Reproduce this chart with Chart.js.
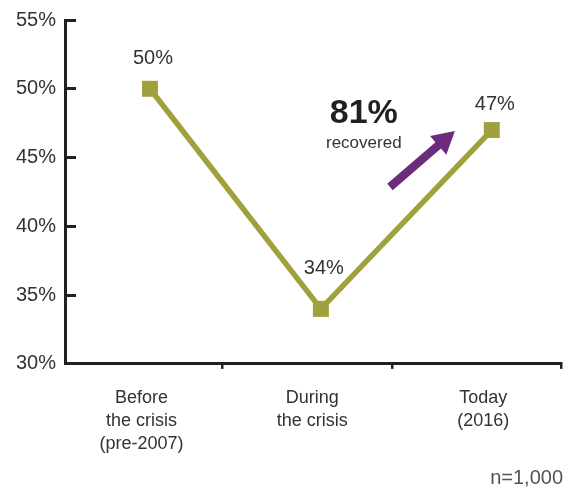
<!DOCTYPE html>
<html>
<head>
<meta charset="utf-8">
<script src="https://cdn.jsdelivr.net/npm/chart.js@4.4.0/dist/chart.umd.min.js"></script>
<style>
  html, body { margin: 0; padding: 0; background: #fff; }
  #wrap { width: 573px; height: 489px; }
</style>
</head>
<body>
<div id="wrap"><canvas id="lineChart"></canvas></div>
<script>
// data
const categories = ['Before\nthe crisis\n(pre-2007)', 'During\nthe crisis', 'Today\n(2016)'];
const shares = [50, 34, 47];
const yTicks = [30, 35, 40, 45, 50, 55];
const recoveredText = '81%';
const sampleNote = 'n=1,000';

const olive = '#a0a13b';
const ink = '#231f20';
const textGrey = '#333333';
const purple = '#6b2d7b';
const FONT = '"Liberation Sans", Arial, sans-serif';

// x range chosen so categories sit where the designer put them
const xMin = -0.497, xMax = 2.409;
const dividerTicks = [0.42, 1.415, 2.409];

const valueLabels = {
  id: 'valueLabels',
  afterDatasetsDraw(chart) {
    const ctx = chart.ctx;
    const meta = chart.getDatasetMeta(0);
    const lift = [30, 40, 26];
    ctx.save();
    ctx.font = '20px ' + FONT;
    ctx.fillStyle = textGrey;
    ctx.textAlign = 'center';
    ctx.textBaseline = 'middle';
    meta.data.forEach((pt, i) => {
      ctx.fillText(shares[i] + '%', pt.x + 3, pt.y - lift[i]);
    });
    ctx.restore();
  }
};

const recoveredNote = {
  id: 'recoveredNote',
  afterDatasetsDraw(chart) {
    const ctx = chart.ctx;
    const x = chart.scales.x, y = chart.scales.y;
    ctx.save();
    ctx.fillStyle = ink;
    ctx.textAlign = 'center';
    ctx.textBaseline = 'middle';
    ctx.font = 'bold 34px ' + FONT;
    ctx.fillText(recoveredText, x.getPixelForValue(1.251), y.getPixelForValue(48.2));
    ctx.fillStyle = textGrey;
    ctx.font = '17px ' + FONT;
    ctx.fillText('recovered', x.getPixelForValue(1.251), y.getPixelForValue(46.0));

    // arrow
    const x0 = x.getPixelForValue(1.404), y0 = y.getPixelForValue(42.86);
    const x1 = x.getPixelForValue(1.784), y1 = y.getPixelForValue(46.93);
    const ang = Math.atan2(y1 - y0, x1 - x0);
    const len = Math.hypot(x1 - x0, y1 - y0);
    const headLen = 22, headHalf = 12.5, shaftHalf = 4.2;
    ctx.translate(x0, y0);
    ctx.rotate(ang);
    ctx.fillStyle = purple;
    ctx.beginPath();
    ctx.moveTo(0, -shaftHalf);
    ctx.lineTo(len - headLen, -shaftHalf);
    ctx.lineTo(len - headLen, -headHalf);
    ctx.lineTo(len, 0);
    ctx.lineTo(len - headLen, headHalf);
    ctx.lineTo(len - headLen, shaftHalf);
    ctx.lineTo(0, shaftHalf);
    ctx.closePath();
    ctx.fill();
    ctx.restore();
  }
};

const chart = new Chart(document.getElementById('lineChart'), {
  type: 'line',
  data: {
    datasets: [{
      data: shares.map((v, i) => ({ x: i, y: v })),
      borderColor: olive,
      borderWidth: 5.5,
      backgroundColor: olive,
      pointStyle: 'rect',
      pointRadius: 11.3,
      pointHoverRadius: 11.3,
      pointBorderWidth: 0,
      pointBackgroundColor: olive,
      tension: 0,
      clip: false
    }]
  },
  options: {
    responsive: true,
    maintainAspectRatio: false,
    animation: false,
    layout: { padding: { top: 0, left: -4, right: 10, bottom: -1 } },
    plugins: {
      legend: { display: false },
      tooltip: { enabled: false },
      title: {
        display: true,
        text: sampleNote,
        position: 'bottom',
        align: 'end',
        color: '#555',
        font: { family: FONT, size: 20, weight: 'normal' },
        padding: { top: 0, bottom: 0 }
      }
    },
    scales: {
      x: {
        type: 'linear',
        min: xMin,
        max: xMax,
        afterBuildTicks: s => { s.ticks = dividerTicks.map(v => ({ value: v })); },
        ticks: { display: false },
        grid: { drawOnChartArea: false, tickLength: 5, lineWidth: 2.5, color: ink },
        border: { color: ink, width: 3 }
      },
      x2: {
        type: 'linear',
        position: 'bottom',
        min: xMin,
        max: xMax,
        afterBuildTicks: s => { s.ticks = categories.map((c, i) => ({ value: i - 0.05 })); },
        ticks: {
          autoSkip: false,
          maxRotation: 0,
          padding: 10,
          color: textGrey,
          font: { family: FONT, size: 18, lineHeight: 1.28 },
          callback: (v, i) => categories[i].split('\n')
        },
        grid: { display: false },
        border: { display: false }
      },
      y: {
        min: yTicks[0],
        max: yTicks[yTicks.length - 1],
        afterBuildTicks: s => { s.ticks = yTicks.map(v => ({ value: v })); },
        ticks: {
          autoSkip: false,
          padding: 20,
          color: textGrey,
          font: { family: FONT, size: 20, lineHeight: '0px' },
          callback: v => v + '%'
        },
        grid: { drawOnChartArea: false, tickLength: -11, lineWidth: 3, color: ink },
        border: { color: ink, width: 3 }
      }
    }
  },
  plugins: [valueLabels, recoveredNote]
});
</script>
</body>
</html>
